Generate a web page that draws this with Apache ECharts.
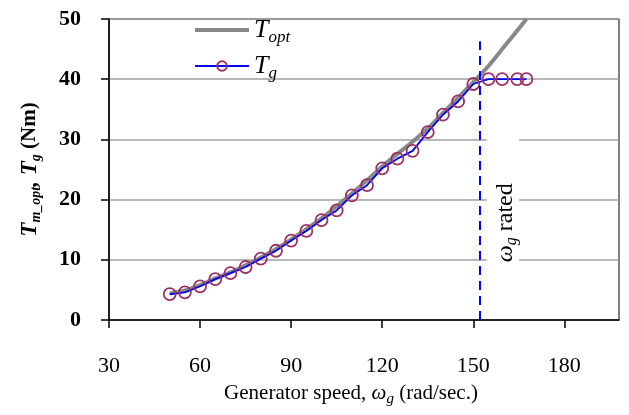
<!DOCTYPE html>
<html>
<head>
<meta charset="utf-8">
<script src="https://cdn.jsdelivr.net/npm/echarts@6/dist/echarts.min.js"></script>
<style>
  html, body { margin: 0; padding: 0; background: #fff; }
  #chart { width: 629px; height: 415px; }
</style>
</head>
<body>
<div id="chart"></div>
<script>
// optimal torque curve (gray)
const speedOpt = [50, 55, 60, 65, 70, 75, 80, 85, 90, 95, 100, 105, 110, 115, 120, 125, 130, 135, 140, 145, 150, 155, 160, 165, 167.5];
const torqueOpt = [4.4, 4.9, 5.8, 6.9, 7.9, 9.1, 10.4, 11.8, 13.4, 15.1, 16.9, 18.9, 21.0, 23.2, 25.5, 27.6, 29.6, 31.8, 34.4, 36.9, 39.5, 42.2, 45.3, 48.4, 50];
// generator torque (blue with circles)
const speedGen = [50, 55, 60, 65, 70, 75, 80, 85, 90, 95, 100, 105, 110, 115, 120, 125, 130, 135, 140, 145, 150, 155, 159.5, 164.5, 167.5];
const torqueGen = [4.3, 4.6, 5.6, 6.8, 7.8, 8.8, 10.2, 11.5, 13.2, 14.8, 16.6, 18.2, 20.7, 22.4, 25.2, 26.8, 28.1, 31.2, 34.1, 36.3, 39.2, 40.0, 40.0, 40.0, 40.0];
const ratedSpeed = 152;
const ratedTop = 46.3;
const xTicks = [30, 60, 90, 120, 150, 180];
const yTicks = [0, 10, 20, 30, 40, 50];

const serif = '"Liberation Serif", "DejaVu Serif", serif';

const chart = echarts.init(document.getElementById('chart'));

const legendRich = {
  t: { fontFamily: serif, fontStyle: 'italic', fontSize: 26, color: '#000' },
  s: { fontFamily: serif, fontStyle: 'italic', fontSize: 17, color: '#000', padding: [15, 0, 0, 0] }
};

chart.setOption({
  animation: false,
  backgroundColor: '#fff',
  grid: { left: 109, right: 10, top: 19, bottom: 95, show: true, borderColor: '#000', borderWidth: 1, backgroundColor: 'transparent' },
  legend: {
    left: 188,
    top: 12,
    orient: 'vertical',
    itemWidth: 54,
    itemHeight: 12,
    itemGap: 7,
    data: [
      { name: 'opt', itemStyle: { opacity: 0 }, lineStyle: { width: 4, color: '#888' } },
      { name: 'g' }
    ],
    formatter: (name) => `{t|T}{s|${name}}`,
    textStyle: { rich: legendRich }
  },
  xAxis: {
    type: 'value',
    min: 30,
    max: 198,
    interval: 30,
    name: 'Generator speed, {w|ω}{s|g} (rad/sec.)',
    nameLocation: 'middle',
    nameGap: 60,
    nameTextStyle: {
      fontFamily: serif, fontSize: 21, color: '#000', padding: [0, 26, 0, 0],
      rich: {
        w: { fontFamily: serif, fontStyle: 'italic', fontSize: 21, color: '#000' },
        s: { fontFamily: serif, fontStyle: 'italic', fontSize: 15, color: '#000', padding: [12, 0, 0, 0] }
      }
    },
    axisLine: { onZero: false, lineStyle: { color: '#000', width: 1.5 } },
    axisTick: { inside: false, length: 8, customValues: xTicks, lineStyle: { color: '#000', width: 1.5 } },
    axisLabel: { customValues: xTicks, fontFamily: serif, fontSize: 22, color: '#000', margin: 35 },
    splitLine: { show: false }
  },
  yAxis: {
    type: 'value',
    min: 0,
    max: 50,
    interval: 10,
    name: '{T|T}{s|m_opt}{T|, T}{s|g}{p| (Nm)}',
    nameLocation: 'middle',
    nameGap: 66,
    nameTextStyle: {
      color: '#000',
      rich: {
        T: { fontFamily: serif, fontStyle: 'italic', fontWeight: 'bold', fontSize: 23, color: '#000' },
        s: { fontFamily: serif, fontStyle: 'italic', fontWeight: 'bold', fontSize: 14, color: '#000', padding: [12, 0, 0, 0] },
        p: { fontFamily: serif, fontWeight: 'bold', fontSize: 21, color: '#000' }
      }
    },
    axisLine: { show: true, onZero: false, lineStyle: { color: '#000', width: 1.5 } },
    axisTick: { inside: false, length: 8, customValues: yTicks, lineStyle: { color: '#000', width: 1.5 } },
    axisLabel: { customValues: yTicks, fontFamily: serif, fontWeight: 'bold', fontSize: 22, color: '#000', margin: 28 },
    splitLine: { show: true, lineStyle: { color: '#a0a0a0', width: 1.5 } }
  },
  series: [
    {
      name: 'opt',
      type: 'line',
      data: speedOpt.map((x, i) => [x, torqueOpt[i]]),
      smooth: 0.3,
      showSymbol: false,
      symbol: 'none',
      lineStyle: { color: '#888', width: 4 },
      itemStyle: { color: '#888' },
      z: 2
    },
    {
      name: 'g',
      type: 'line',
      data: speedGen.map((x, i) => [x, torqueGen[i]]),
      symbol: 'circle',
      symbolSize: 12,
      lineStyle: { color: '#0000ff', width: 1.8 },
      itemStyle: { color: 'rgba(255,255,255,0)', borderColor: '#993366', borderWidth: 1.8 },
      z: 3,
      markLine: {
        silent: true,
        symbol: 'none',
        label: { show: false },
        lineStyle: { color: '#0000ff', type: [9, 6], width: 2 },
        data: [[{ coord: [ratedSpeed, 0] }, { coord: [ratedSpeed, ratedTop] }]]
      }
    }
  ]
});

// "ω_g rated" annotation with its white box, placed in data space
const boxA = chart.convertToPixel({ gridIndex: 0 }, [154.5, 31.4]);
const boxB = chart.convertToPixel({ gridIndex: 0 }, [165.1, 9.0]);
const p = chart.convertToPixel({ gridIndex: 0 }, [160.8, 9.6]);
chart.setOption({
  graphic: [
    {
      type: 'rect',
      z: 9,
      silent: true,
      shape: { x: boxA[0], y: boxA[1], width: boxB[0] - boxA[0], height: boxB[1] - boxA[1] },
      style: { fill: '#fff' }
    },
    {
      type: 'text',
      x: p[0],
      y: p[1],
      rotation: Math.PI / 2,
      z: 10,
      silent: true,
      style: {
        text: '{w|ω}{s|g}{r| rated}',
        align: 'left',
        verticalAlign: 'middle',
        rich: {
          w: { fontFamily: serif, fontStyle: 'italic', fontSize: 24, fill: '#000', color: '#000' },
          s: { fontFamily: serif, fontStyle: 'italic', fontSize: 16, fill: '#000', color: '#000', padding: [12, 0, 0, 0] },
          r: { fontFamily: serif, fontSize: 24, fill: '#000', color: '#000' }
        }
      }
    }
  ]
});
</script>
</body>
</html>
